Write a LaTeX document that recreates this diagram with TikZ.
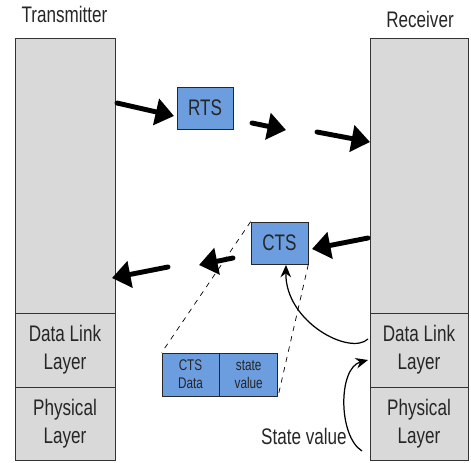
\documentclass[tikz,border=0pt]{standalone}
\usepackage{fontspec}
\setmainfont{Liberation Sans}[FakeStretch=0.76]
\usetikzlibrary{arrows.meta}

\definecolor{layergray}{RGB}{217,217,217}
\definecolor{frameblue}{RGB}{108,157,222}
\definecolor{textgray}{RGB}{38,38,38}

\tikzset{
    layerbox/.style={draw=black!80, fill=layergray, minimum width=2cm, inner sep=0pt,
        align=center, text=textgray, font=\fontsize{12.8pt}{15.9pt}\selectfont},
    framebox/.style={draw=black!85, fill=frameblue, inner sep=0pt, text=textgray,
        font=\fontsize{12.8pt}{15pt}\selectfont},
    fieldbox/.style={draw=black!85, fill=frameblue, inner sep=0pt, align=center,
        minimum height=0.86cm, text=textgray, font=\fontsize{8.8pt}{10.4pt}\selectfont},
    plaintext/.style={text=textgray, font=\fontsize{12.8pt}{15pt}\selectfont},
    flowarrow/.style={line width=2.8pt, line cap=round, -{Triangle[length=10.5pt,width=15pt]}},
    curvedarrow/.style={line width=0.7pt, -{Stealth[length=7pt,width=6pt]}}
}

\begin{document}
\begin{tikzpicture}[x=0.02cm, y=-0.02cm]
    \useasboundingbox (0,0) rectangle (471,463);

    % Transmitter stack
    \node[layerbox, minimum height=5.5cm] (txtop) at (65,175.5) {};
    \node[layerbox, minimum height=1.48cm] (txdll) at (65,350) {Data Link\\Layer};
    \node[layerbox, minimum height=1.46cm] (txphy) at (65,423.5) {Physical\\Layer};
    \node[plaintext] (txname) at (64.5,14) {Transmitter};

    % Receiver stack
    \node[layerbox, minimum width=1.96cm, minimum height=5.5cm] (rxtop) at (419,175.5) {};
    \node[layerbox, minimum width=1.96cm, minimum height=1.48cm] (rxdll) at (419,350) {Data Link\\Layer};
    \node[layerbox, minimum width=1.96cm, minimum height=1.46cm] (rxphy) at (419,423.5) {Physical\\Layer};
    \node[plaintext] (rxname) at (420,19) {Receiver};

    % Frames
    \node[framebox, minimum width=1.12cm, minimum height=0.84cm] (rts) at (205,108) {RTS};
    \node[framebox, minimum width=1.14cm, minimum height=0.84cm] (cts) at (279.5,243) {CTS};

    % CTS frame fields
    \node[fieldbox, minimum width=1.14cm] (ctsdata) at (190.5,374.5) {CTS\\Data};
    \node[fieldbox, minimum width=1.16cm, anchor=west] (stval) at (ctsdata.east) {state\\value};
    \draw[dashed] (cts.north west) -- (ctsdata.north west);
    \draw[dashed] (cts.south east) -- (stval.south east);

    % RTS going over
    \coordinate (r1) at (117,103);  \coordinate (r2) at (174,116);
    \coordinate (r3) at (252,123);  \coordinate (r4) at (286,130);
    \coordinate (r5) at (317,132);  \coordinate (r6) at (370,142);
    \draw[flowarrow] (r1) -- (r2);
    \draw[flowarrow] (r3) -- (r4);
    \draw[flowarrow] (r5) -- (r6);

    % CTS coming back
    \coordinate (c1) at (368,238);  \coordinate (c2) at (312,249);
    \coordinate (c3) at (233,258);  \coordinate (c4) at (199,265);
    \coordinate (c5) at (168,267);  \coordinate (c6) at (112,278);
    \draw[flowarrow] (c1) -- (c2);
    \draw[flowarrow] (c3) -- (c4);
    \draw[flowarrow] (c5) -- (c6);

    % state value handed up
    \node[plaintext] (svtext) at (304,436) {State value};
    \coordinate (svfoot) at (362,451);
    \coordinate (svtip) at (368,360);
    \coordinate (hook) at (368,339);
    \coordinate (ctsfoot) at (286,265);
    \draw[curvedarrow] (svfoot) .. controls (338,436) and (338,368) .. (svtip);
    \draw[curvedarrow] (hook) .. controls (350,356) and (285,322) .. (ctsfoot);
\end{tikzpicture}
\end{document}
